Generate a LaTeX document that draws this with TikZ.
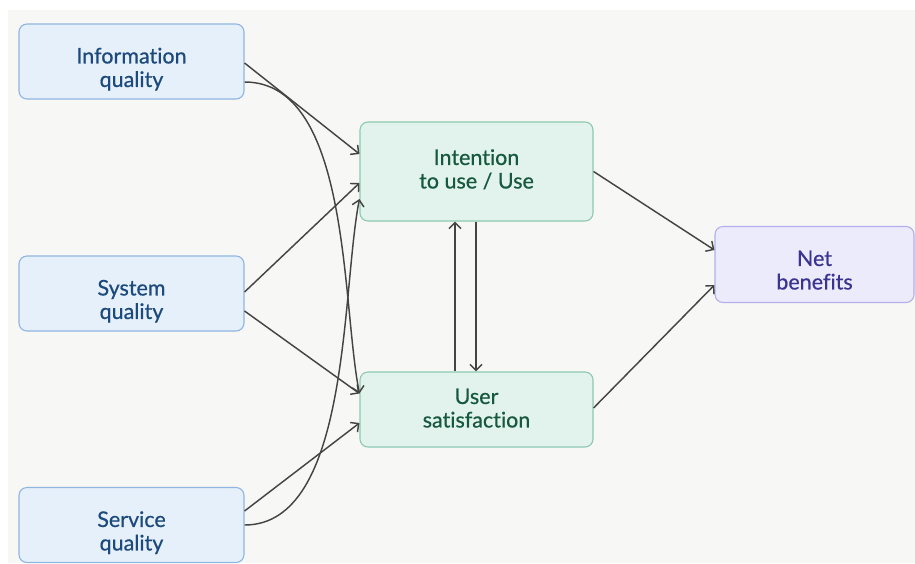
\documentclass[tikz,border=0pt]{standalone}
\usepackage{fontspec}
\setmainfont{Lato}[Ligatures={NoCommon,NoRare}, Contextuals=NoAlternate, FakeBold=0.6]
\usetikzlibrary{arrows.meta}

\definecolor{canvas}{HTML}{F7F7F5}
\definecolor{bluefill}{HTML}{E6F0FA}
\definecolor{blueline}{HTML}{90B5E0}
\definecolor{bluetext}{HTML}{1C4A7C}
\definecolor{greenfill}{HTML}{E1F3EC}
\definecolor{greenline}{HTML}{8DC8B2}
\definecolor{greentext}{HTML}{175840}
\definecolor{purplefill}{HTML}{ECEBFC}
\definecolor{purpleline}{HTML}{B4AEEA}
\definecolor{purpletext}{HTML}{3B3391}
\definecolor{linkgray}{HTML}{444444}

% two centred lines, drawn #1 lower than the box centre
\newcommand\boxlines[2]{\raisebox{#1}[\height][\depth]{\begin{tabular}{@{}c@{}}#2\end{tabular}}}

\tikzset{
  box/.style={rectangle, rounded corners=8pt, line width=1.1pt,
    font=\fontsize{21.5}{23.5}\selectfont, inner sep=0pt},
  sourcebox/.style={box, fill=bluefill, draw=blueline, text=bluetext,
    minimum width=225pt, minimum height=75pt},
  midbox/.style={box, fill=greenfill, draw=greenline, text=greentext,
    minimum width=233pt},
  outbox/.style={box, fill=purplefill, draw=purpleline, text=purpletext,
    minimum width=199pt, minimum height=76pt},
  link/.style={draw=linkgray, line width=1.45pt,
    -{Straight Barb[length=6pt,width=12pt,line width=1.45pt]}},
}

\begin{document}
\begin{tikzpicture}[x=1pt,y=-1pt]
  \useasboundingbox (0,0) rectangle (915,563);
  \fill[canvas] (8,10) rectangle (915,563);

  % quality dimensions
  \node[sourcebox] (info) at (131.5,61.5) {\boxlines{-9pt}{Information\\quality}};
  \node[sourcebox] (sys)  at (131.5,293.5) {\boxlines{-9pt}{System\\quality}};
  \node[sourcebox] (serv) at (131.5,525) {\boxlines{-9pt}{Service\\quality}};

  % use and satisfaction
  \node[midbox, minimum height=99pt] (use) at (476.5,171.5) {\boxlines{-0.5pt}{Intention\\to use / Use}};
  \node[midbox, minimum height=75pt] (sat) at (476.5,409.5) {\boxlines{-1.5pt}{User\\satisfaction}};

  % outcome
  \node[outbox] (net) at (814.5,264.5) {\boxlines{-8.5pt}{Net\\benefits}};

  % straight links into the middle column
  \draw[link] ([yshift=-1.5pt]info.east) -- ([yshift=17.5pt]use.west);
  \draw[link] ([yshift=1.5pt]sys.east)   -- ([yshift=-11.5pt]use.west);
  \draw[link] ([yshift=-17.5pt]sys.east) -- ([yshift=16pt]sat.west);
  \draw[link] ([yshift=14pt]serv.east)   -- ([yshift=-13.5pt]sat.west);

  % crossing curved links
  \draw[link] ([yshift=-20.5pt]info.east) .. controls +(106,0) and +(-18,-91) .. ([yshift=16pt]sat.west);
  \draw[link] (serv.east) .. controls +(106,0) and +(-18,91) .. ([yshift=-27.5pt]use.west);

  % feedback between use and satisfaction
  \draw[link] ([xshift=-21.5pt]sat.north) -- ([xshift=-21.5pt]use.south);
  \draw[link] ([xshift=-0.5pt]use.south) -- ([xshift=-0.5pt]sat.north);

  % links to net benefits
  \draw[link] (use.east) -- ([yshift=14.5pt]net.west);
  \draw[link] ([yshift=1.5pt]sat.east) -- ([yshift=-20.5pt]net.west);
\end{tikzpicture}
\end{document}
